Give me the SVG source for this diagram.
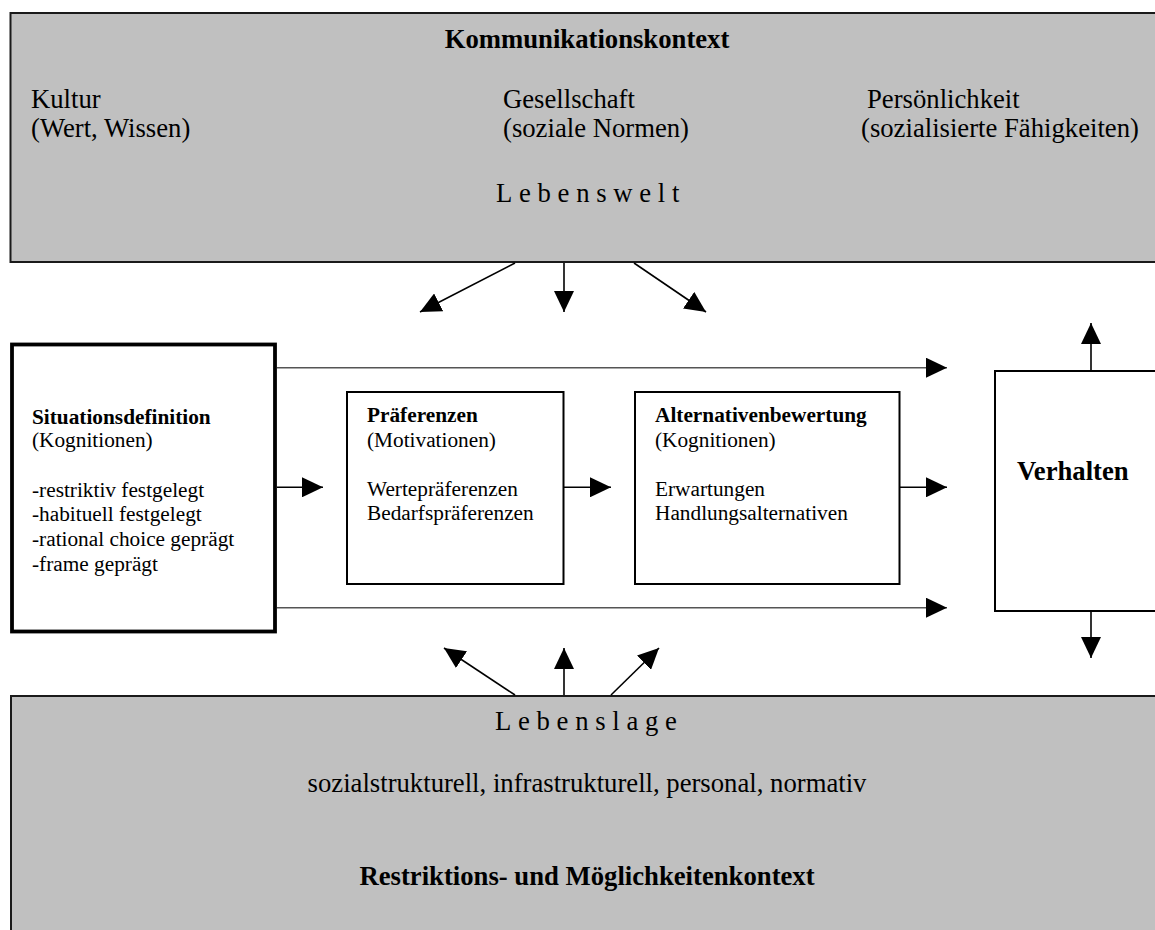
<svg xmlns="http://www.w3.org/2000/svg" width="1155" height="930" viewBox="0 0 1155 930">
<style>
text{font-family:"Liberation Serif","Times New Roman",serif;fill:#000}
.big{font-size:26.7px}
.sm{font-size:21.3px}
.b{font-weight:bold}
.ctx{fill:#c0c0c0;stroke:#1a1a1a;stroke-width:2}
.box{fill:#fff;stroke:#000;stroke-width:2}
.thick{fill:#fff;stroke:#000;stroke-width:3.8}
.ln{stroke:#000;stroke-width:1.6;fill:none}
.gl{stroke:#555;stroke-width:1.6;fill:none}
.sp{letter-spacing:6.7px}
</style>
<defs>
<marker id="ah" viewBox="0 0 21 20" markerWidth="21" markerHeight="20" refX="21" refY="10" orient="auto" markerUnits="userSpaceOnUse">
<path d="M0,0 L21,10 L0,20 z" fill="#000"/>
</marker>
</defs>
<g id="kommunikationskontext">
<rect class="ctx" x="10.5" y="13" width="1160" height="249"/>
<text class="big b" x="587" y="48" text-anchor="middle">Kommunikationskontext</text>
<text class="big" x="31" y="108">Kultur</text>
<text class="big" x="31" y="137">(Wert, Wissen)</text>
<text class="big" x="503" y="108">Gesellschaft</text>
<text class="big" x="503" y="137">(soziale Normen)</text>
<text class="big" x="867" y="108">Persönlichkeit</text>
<text class="big" x="861" y="137">(sozialisierte Fähigkeiten)</text>
<text class="big sp" x="496" y="202">Lebenswelt</text>
</g>
<g id="restriktionskontext">
<rect class="ctx" x="11" y="696" width="1160" height="250"/>
<text class="big sp" x="495" y="730">Lebenslage</text>
<text class="big" x="587" y="792" text-anchor="middle">sozialstrukturell, infrastrukturell, personal, normativ</text>
<text class="big b" x="587" y="885" text-anchor="middle">Restriktions- und Möglichkeitenkontext</text>
</g>
<g id="situationsdefinition">
<rect class="thick" x="12" y="344.5" width="263" height="287"/>
<text class="sm b" x="32" y="424">Situationsdefinition</text>
<text class="sm" x="32" y="447">(Kognitionen)</text>
<text class="sm" x="32" y="497">-restriktiv festgelegt</text>
<text class="sm" x="32" y="521">-habituell festgelegt</text>
<text class="sm" x="32" y="546">-rational choice geprägt</text>
<text class="sm" x="32" y="571">-frame geprägt</text>
</g>
<g id="praeferenzen">
<rect class="box" x="347" y="392" width="216.5" height="192"/>
<text class="sm b" x="367" y="422">Präferenzen</text>
<text class="sm" x="367" y="447">(Motivationen)</text>
<text class="sm" x="367" y="496">Wertepräferenzen</text>
<text class="sm" x="367" y="520">Bedarfspräferenzen</text>
</g>
<g id="alternativenbewertung">
<rect class="box" x="635" y="392" width="264.5" height="192"/>
<text class="sm b" x="655" y="422">Alternativenbewertung</text>
<text class="sm" x="655" y="447">(Kognitionen)</text>
<text class="sm" x="655" y="496">Erwartungen</text>
<text class="sm" x="655" y="520">Handlungsalternativen</text>
</g>
<g id="verhalten">
<rect class="box" x="995" y="371" width="170" height="240"/>
<text class="big b" x="1017" y="480">Verhalten</text>
</g>
<g id="connectors">
<line class="ln" x1="515" y1="263" x2="420" y2="312" marker-end="url(#ah)"/>
<line class="ln" x1="564" y1="263" x2="564" y2="312" marker-end="url(#ah)"/>
<line class="ln" x1="634" y1="263" x2="706" y2="312" marker-end="url(#ah)"/>
<line class="gl" x1="277" y1="367.7" x2="947" y2="367.7" marker-end="url(#ah)"/>
<line class="gl" x1="277" y1="607.7" x2="947" y2="607.7" marker-end="url(#ah)"/>
<line class="ln" x1="277" y1="487.3" x2="323" y2="487.3" marker-end="url(#ah)"/>
<line class="ln" x1="564" y1="487.3" x2="611" y2="487.3" marker-end="url(#ah)"/>
<line class="ln" x1="900" y1="487.3" x2="947" y2="487.3" marker-end="url(#ah)"/>
<line class="ln" x1="1091" y1="370" x2="1091" y2="323" marker-end="url(#ah)"/>
<line class="ln" x1="1091" y1="612" x2="1091" y2="658" marker-end="url(#ah)"/>
<line class="ln" x1="515" y1="695" x2="444" y2="648" marker-end="url(#ah)"/>
<line class="ln" x1="564" y1="695" x2="564" y2="648" marker-end="url(#ah)"/>
<line class="ln" x1="611" y1="695" x2="659" y2="648" marker-end="url(#ah)"/>
</g>
</svg>
